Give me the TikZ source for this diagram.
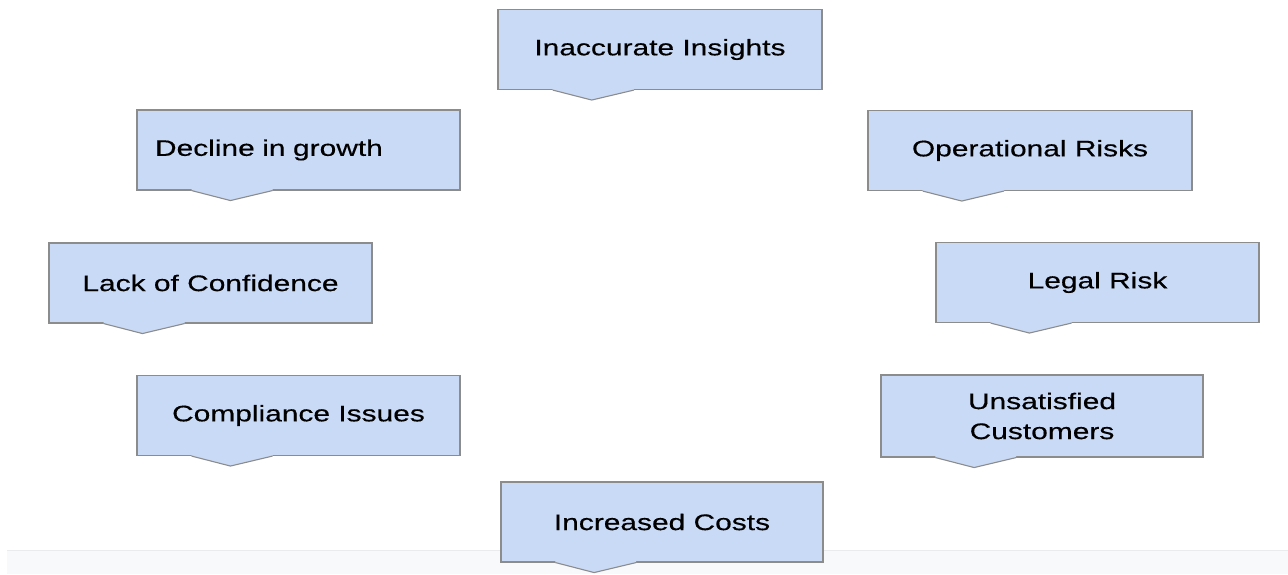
\documentclass[tikz,border=0pt]{standalone}
\usepackage{fontspec}
\setmainfont{Liberation Sans}[FakeStretch=1.33,FakeBold=0.4]
\usepackage{tikz}
\usetikzlibrary{calc}
\definecolor{rfill}{HTML}{C9DAF6}
\definecolor{rline}{HTML}{8C8C8C}
\definecolor{band}{HTML}{F8F9FB}
\definecolor{bandline}{HTML}{EAEBED}
\tikzset{
  risk/.style={draw=rline,fill=rfill,line width=1.1pt,minimum width=323pt,minimum height=80pt,inner sep=0pt,align=center,font=\fontsize{22.5}{30}\selectfont},
  tailfill/.style={fill=rfill},
  tailline/.style={draw=rline,line width=1.1pt,line join=miter},
}

\begin{document}
\begin{tikzpicture}[x=1pt,y=-1pt]
\useasboundingbox (0,0) rectangle (1288,574);
% light strip along the bottom
\fill[band] (7,550) rectangle (1288,574);
\draw[bandline] (7,550) -- (1288,550);

\node[risk,minimum width=324pt] (ins) at (660,49.5) {Inaccurate Insights};
\node[risk,text width=287pt,inner xsep=18pt,align=left] (grow) at (298.5,150) {Decline in growth};
\node[risk] (conf) at (210.5,283) {Lack of Confidence};
\node[risk,minimum width=324pt] (ops) at (1030,150.5) {Operational Risks};
\node[risk] (legal) at (1097.5,282.5) {Legal Risk};
\node[risk] (comp) at (298.5,415.5) {Compliance Issues};
\node[risk,minimum width=322pt,minimum height=82pt] (cust) at (1042,416) {Unsatisfied\\Customers};
\node[risk,minimum width=322pt] (cost) at (662,522) {Increased Costs};

% pointer under each box
\foreach \n in {ins,grow,conf,ops,legal,comp,cust,cost}{
  \coordinate (\n-l) at ($(\n.south west)!0.17!(\n.south east)$);
  \coordinate (\n-r) at ($(\n.south west)!0.42!(\n.south east)$);
  \coordinate (\n-t) at ($(\n.south west)!0.29!(\n.south east)+(0,10)$);
  \fill[tailfill] ($(\n-l)+(0,-1.5)$) -- (\n-l) -- (\n-t) -- (\n-r) -- ($(\n-r)+(0,-1.5)$) -- cycle;
  \draw[tailline] (\n-l) -- (\n-t) -- (\n-r);
}
\end{tikzpicture}
\end{document}
